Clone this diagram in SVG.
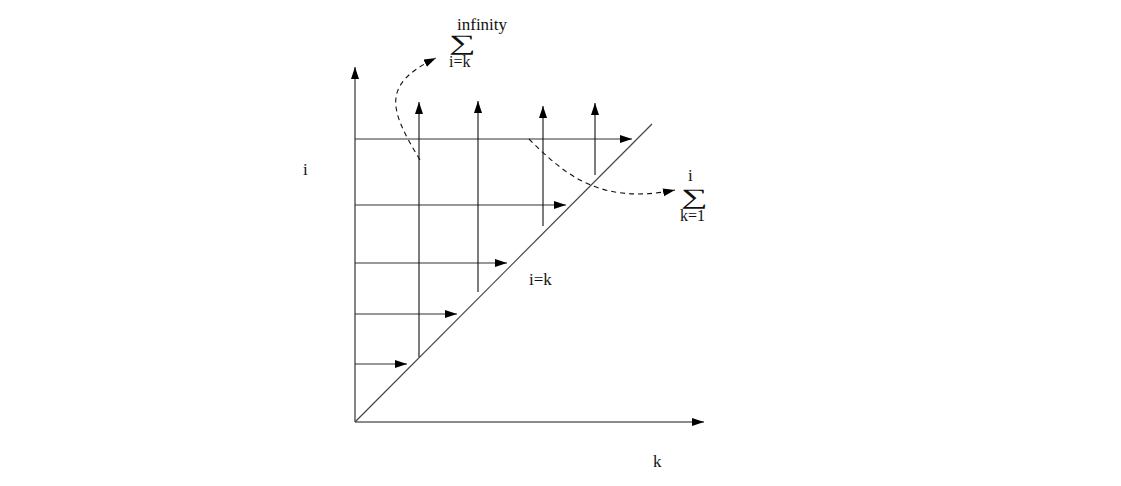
<svg xmlns="http://www.w3.org/2000/svg" width="1121" height="486" viewBox="0 0 1121 486">
<defs>
<marker id="ah" markerUnits="userSpaceOnUse" markerWidth="13" markerHeight="9" refX="12" refY="4" orient="auto">
<path d="M0,0 L12,4 L0,8 z" fill="#000"/>
</marker>
<style>
.ax{stroke:#666;stroke-width:1.6;fill:none}
.ln{stroke:#111;stroke-width:1.1;fill:none}
.hl{stroke:#333;stroke-width:1.1;fill:none}
.dg{stroke:#444;stroke-width:1.2;fill:none}
.ds{stroke:#111;stroke-width:1.1;fill:none;stroke-dasharray:5,4}
.t{font-family:"Liberation Serif","Times New Roman",serif;fill:#111}
</style>
</defs>
<rect width="1121" height="486" fill="#fff"/>
<g id="connectors">
<line class="ax" x1="355" y1="422" x2="355" y2="67" marker-end="url(#ah)"/>
<line class="ax" x1="355" y1="422" x2="704" y2="422" marker-end="url(#ah)"/>
<line class="dg" x1="355" y1="422" x2="652" y2="124"/>
<line class="hl" x1="355" y1="364" x2="407" y2="364" marker-end="url(#ah)"/>
<line class="hl" x1="355" y1="314" x2="457" y2="314" marker-end="url(#ah)"/>
<line class="hl" x1="355" y1="263" x2="507" y2="263" marker-end="url(#ah)"/>
<line class="hl" x1="355" y1="205" x2="566" y2="205" marker-end="url(#ah)"/>
<line class="hl" x1="355" y1="139" x2="632" y2="139" marker-end="url(#ah)"/>
<line class="ln" x1="419" y1="357" x2="419" y2="102" marker-end="url(#ah)"/>
<line class="ln" x1="478" y1="292" x2="478" y2="101" marker-end="url(#ah)"/>
<line class="ln" x1="543" y1="226" x2="543" y2="106" marker-end="url(#ah)"/>
<line class="ln" x1="595" y1="175" x2="595" y2="103" marker-end="url(#ah)"/>
<path class="ds" d="M420,160 C390,110 380,85 436,58" marker-end="url(#ah)"/>
<path class="ds" d="M529,139 C565,175 600,205 675,190" marker-end="url(#ah)"/>
</g>
<g id="label-i">
<text class="t" x="303" y="175" font-size="17">i</text>
</g>
<g id="label-k">
<text class="t" x="653" y="467" font-size="17">k</text>
</g>
<g id="label-diag">
<text class="t" x="529" y="285" font-size="17">i=k</text>
</g>
<g id="sum-infinity">
<text class="t" x="457" y="30" font-size="17">infinity</text>
<text class="t" transform="translate(449,50) scale(1.7,1)" x="0" y="0" font-size="22">∑</text>
<text class="t" x="449" y="67" font-size="16">i=k</text>
</g>
<g id="sum-k">
<text class="t" x="688" y="181" font-size="17">i</text>
<text class="t" transform="translate(681,204) scale(1.7,1)" x="0" y="0" font-size="22">∑</text>
<text class="t" x="680" y="221" font-size="16">k=1</text>
</g>
</svg>
